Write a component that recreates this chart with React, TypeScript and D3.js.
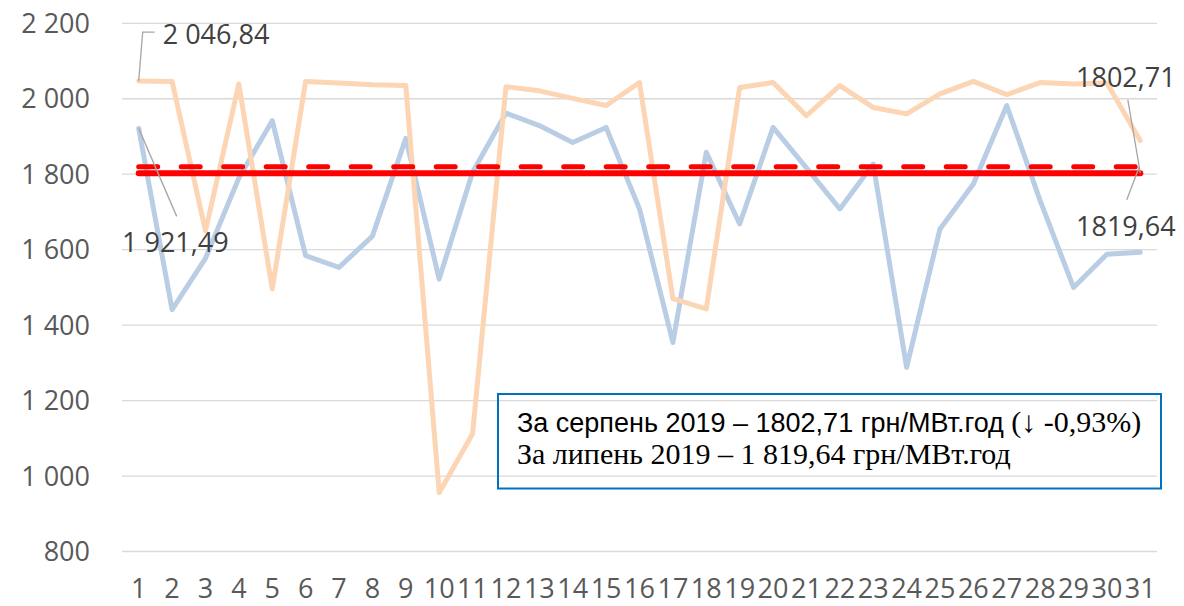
import React from "react";
import * as d3 from "d3";

const days: number[] = Array.from({ length: 31 }, (_, i) => i + 1);

// orange series (серпень 2019)
const augustValues: number[] = [
  2046.84, 2046, 1650, 2039, 1496, 2046, 2042, 2037, 2035, 956, 1112, 2032, 2021, 2001, 1982,
  2043, 1470, 1443, 2030, 2043, 1955, 2035, 1977, 1960, 2013, 2046, 2011, 2043, 2039, 2042, 1889,
];

// blue series (липень 2019)
const julyValues: number[] = [
  1921.49, 1441, 1577, 1790, 1942, 1584, 1553, 1636, 1895, 1522, 1805, 1962, 1929, 1884, 1924,
  1708, 1354, 1858, 1668, 1924, 1817, 1708, 1827, 1288, 1655, 1774, 1982, 1730, 1500, 1588, 1593,
];

const augustAverage = 1802.71;
const julyAverage = 1819.64;

const yTicks: number[] = [800, 1000, 1200, 1400, 1600, 1800, 2000, 2200];

const legendLine1Sans = "За серпень 2019 – 1802,71 грн/МВт.год ";
const legendLine1Serif = "(↓ -0,93%)";
const legendLine2 = "За липень 2019 – 1 819,64 грн/МВт.год";

const W = 1184;
const H = 606;

const fmt = d3.formatLocale({ decimal: ",", thousands: " ", grouping: [3], currency: ["", ""] });
const fmtInt = fmt.format(",d");
const fmtDec = fmt.format(",.2f");
const fmtDecNoGroup = fmt.format(".2f");

export default function App() {
  const x = d3.scaleBand<number>().domain(days).range([122, 1157]).padding(0);
  const y = d3.scaleLinear().domain([800, 2200]).range([551.5, 23.3]);
  const cx = (d: number) => (x(d) as number) + x.bandwidth() / 2;

  const line = d3
    .line<number>()
    .x((_, i) => cx(days[i]))
    .y((v) => y(v));

  const first = days[0];
  const last = days[days.length - 1];
  const axisFont = "'Open Sans', 'Noto Sans', sans-serif";
  const serif = "'Liberation Serif', 'Times New Roman', serif";

  return (
    <svg
      width={W}
      height={H}
      style={{ position: "absolute", left: 0, top: 0, background: "#fff" }}
    >
      {/* gridlines */}
      {yTicks.map((t) => (
        <line key={"g" + t} x1={122} x2={1157} y1={y(t)} y2={y(t)} stroke="#d9d9d9" strokeWidth={1.3} />
      ))}
      {/* y labels */}
      {yTicks.map((t) => (
        <text
          key={"yl" + t}
          x={90}
          y={y(t) + 9.7}
          textAnchor="end"
          fontFamily={axisFont}
          fontSize={27}
          fill="#595959"
        >
          {fmtInt(t)}
        </text>
      ))}
      {/* x labels */}
      {days.map((d) => (
        <text
          key={"xl" + d}
          x={cx(d)}
          y={598}
          textAnchor="middle"
          fontFamily={axisFont}
          fontSize={27}
          fill="#595959"
        >
          {d}
        </text>
      ))}

      {/* series */}
      <path d={line(julyValues) || ""} fill="none" stroke="#b9cde5" strokeWidth={5} strokeLinejoin="round" strokeLinecap="round" />
      <path d={line(augustValues) || ""} fill="none" stroke="#fcd5b5" strokeWidth={5} strokeLinejoin="round" strokeLinecap="round" />

      {/* average lines */}
      <line
        x1={cx(first)}
        x2={cx(last)}
        y1={y(julyAverage)}
        y2={y(julyAverage)}
        stroke="#ff0000"
        strokeWidth={5}
        strokeDasharray="19 23.5"
        strokeLinecap="round"
      />
      <line
        x1={cx(first)}
        x2={cx(last)}
        y1={y(augustAverage)}
        y2={y(augustAverage)}
        stroke="#ff0000"
        strokeWidth={6}
        strokeLinecap="round"
      />

      {/* data label: first orange point */}
      <polyline
        points={`${cx(first)},${y(augustValues[0])} ${cx(first) + 4},${y(augustValues[0]) - 49} ${cx(first) + 16},${y(augustValues[0]) - 49}`}
        fill="none"
        stroke="#a6a6a6"
        strokeWidth={1.3}
      />
      <text x={cx(first) + 24} y={y(augustValues[0]) - 37.5} fontFamily={axisFont} fontSize={27} fill="#404040">
        {fmtDec(augustValues[0])}
      </text>

      {/* data label: first blue point */}
      <line
        x1={cx(first)}
        y1={y(julyValues[0])}
        x2={cx(first) + 38}
        y2={y(julyValues[0]) + 88}
        stroke="#a6a6a6"
        strokeWidth={1.3}
      />
      <text x={122} y={y(julyValues[0]) + 123.5} fontFamily={axisFont} fontSize={27} fill="#404040">
        {fmtDec(julyValues[0])}
      </text>

      {/* data label: august average */}
      <line
        x1={cx(last) + 0}
        y1={y(augustAverage)}
        x2={cx(last) - 12.5}
        y2={y(augustAverage) - 73.5}
        stroke="#a6a6a6"
        strokeWidth={1.3}
      />
      <text x={1076} y={y(augustAverage) - 86} fontFamily={axisFont} fontSize={27} fill="#404040">
        {fmtDecNoGroup(augustAverage)}
      </text>

      {/* data label: july average */}
      <line
        x1={cx(last) - 1}
        y1={y(julyAverage)}
        x2={cx(last) - 13.5}
        y2={y(julyAverage) + 33}
        stroke="#a6a6a6"
        strokeWidth={1.3}
      />
      <text x={1076} y={y(julyAverage) + 69} fontFamily={axisFont} fontSize={27} fill="#404040">
        {fmtDecNoGroup(julyAverage)}
      </text>

      {/* text box */}
      <rect x={498} y={394} width={663} height={94.5} fill="none" stroke="#0070c0" strokeWidth={2} />
      <text x={517} y={431.5} fill="#000">
        <tspan fontFamily="'Liberation Sans', Arial, sans-serif" fontSize={27}>
          {legendLine1Sans}
        </tspan>
        <tspan fontFamily={serif} fontSize={30}>
          {legendLine1Serif}
        </tspan>
      </text>
      <text x={517} y={464} fontSize={30} fill="#000" fontFamily={serif}>
        {legendLine2}
      </text>
    </svg>
  );
}
